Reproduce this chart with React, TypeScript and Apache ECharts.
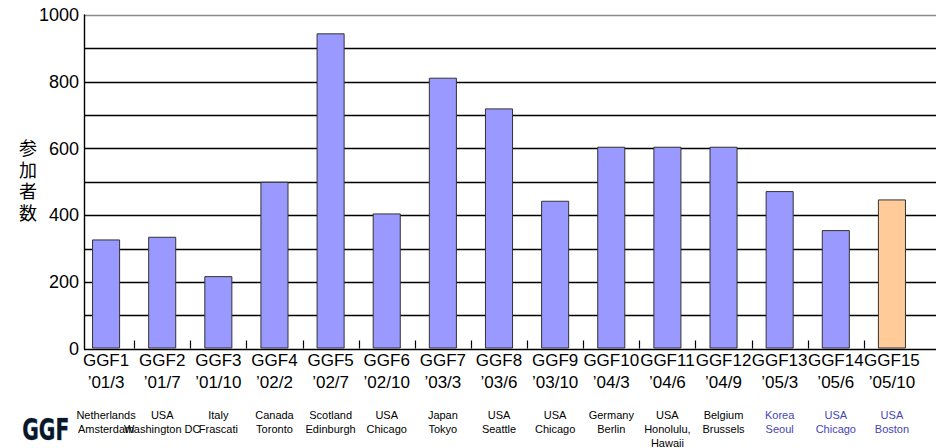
import React, { useEffect, useRef } from "react";
import * as echarts from "echarts";

const editions = ["GGF1", "GGF2", "GGF3", "GGF4", "GGF5", "GGF6", "GGF7", "GGF8", "GGF9", "GGF10", "GGF11", "GGF12", "GGF13", "GGF14", "GGF15"];
const dates = ["’01/3", "’01/7", "’01/10", "’02/2", "’02/7", "’02/10", "’03/3", "’03/6", "’03/10", "’04/3", "’04/6", "’04/9", "’05/3", "’05/6", "’05/10"];
const locations = [
  ["Netherlands", "Amsterdam"],
  ["USA", "Washington DC"],
  ["Italy", "Frascati"],
  ["Canada", "Toronto"],
  ["Scotland", "Edinburgh"],
  ["USA", "Chicago"],
  ["Japan", "Tokyo"],
  ["USA", "Seattle"],
  ["USA", "Chicago"],
  ["Germany", "Berlin"],
  ["USA", "Honolulu,", "Hawaii"],
  ["Belgium", "Brussels"],
  ["Korea", "Seoul"],
  ["USA", "Chicago"],
  ["USA", "Boston"],
];
const participants = [327, 335, 217, 500, 945, 405, 812, 720, 443, 605, 605, 605, 472, 355, 447];
const upcoming = [false, false, false, false, false, false, false, false, false, false, false, false, true, true, true];
const highlighted = [false, false, false, false, false, false, false, false, false, false, false, false, false, false, true];
const yTicks = [0, 200, 400, 600, 800, 1000];
const yTitle = ["参", "加", "者", "数"];

const FONT = "'Liberation Sans', Arial, sans-serif";

export default function App() {
  const ref = useRef<HTMLDivElement>(null);
  useEffect(() => {
    document.body.style.margin = "0";
    if (!ref.current) return;
    const chart = echarts.init(ref.current, null, { renderer: "svg" });
    const splitColors = Array.from({ length: 11 }, (_, i) => (i === 10 ? "#8a8a8a" : "#000000"));
    // category boundaries between neighbouring editions (tick marks)
    const boundaries = editions.slice(1).map((_, i) => i + 1);
    chart.setOption({
      animation: false,
      backgroundColor: "#ffffff",
      textStyle: { fontFamily: FONT },
      grid: [
        { left: 84, right: 0, top: 15, bottom: 99, containLabel: false },
        { left: 78, width: 842, top: 15, bottom: 99, containLabel: false },
      ],
      xAxis: [
        { type: "value", gridIndex: 0, min: 0, max: 1, show: false },
        {
          type: "category",
          gridIndex: 1,
          data: editions,
          axisLine: { show: false },
          axisTick: { show: false },
          splitLine: { show: false },
          axisLabel: {
            interval: 0,
            margin: 1,
            hideOverlap: false,
            formatter: (value: string, index: number) => {
              const up = upcoming[index];
              const sm = up ? "bb" : "b";
              const lines = [
                `{a|${value}}`,
                `{a|${dates[index]}}`,
                `{s| }`,
                ...locations[index].map((t) => `{${sm}|${t}}`),
              ];
              return lines.join("\n");
            },
            rich: {
              a: { fontSize: 17, lineHeight: 22, color: "#000", fontFamily: FONT },
              s: { fontSize: 2, lineHeight: 14, color: "#fff" },
              b: { fontSize: 11, lineHeight: 14, color: "#000", fontFamily: FONT },
              bb: { fontSize: 11, lineHeight: 14, color: "#4545b5", fontFamily: FONT },
            },
          },
        },
      ],
      yAxis: [
        {
          type: "value",
          gridIndex: 0,
          min: 0,
          max: 1000,
          interval: 100,
          axisLine: { show: true, onZero: false, lineStyle: { color: "#000", width: 1.4 } },
          axisTick: { show: false },
          axisLabel: {
            margin: 5,
            fontSize: 18,
            color: "#000",
            fontFamily: FONT,
            formatter: (v: number) => (yTicks.includes(v) ? String(v) : ""),
          },
          splitLine: { show: true, lineStyle: { color: splitColors, width: 1.4 } },
        },
        {
          type: "value",
          gridIndex: 1,
          min: 0,
          max: 1000,
          interval: 100,
          axisLine: { show: false },
          axisTick: { show: false },
          axisLabel: { show: false },
          splitLine: { show: false },
        },
      ],
      graphic: [
        ...yTitle.map((ch, i) => ({
          type: "text",
          left: 19,
          top: 138 + i * 21.5,
          style: { text: ch, fontSize: 18, fill: "#000", fontFamily: "'Noto Sans CJK JP', sans-serif" },
        })),
        {
          type: "text",
          left: 22,
          top: 414,
          style: {
            text: "GGF",
            fontSize: 30,
            fontWeight: "bold",
            fill: "#0b1626",
            stroke: "#6fa8d8",
            lineWidth: 0.6,
            fontFamily: "'DejaVu Sans Condensed', 'DejaVu Sans', sans-serif",
          },
          scaleX: 0.75,
        },
      ],
      series: [
        {
          type: "bar",
          xAxisIndex: 1,
          yAxisIndex: 1,
          barWidth: "50%",
          data: participants.map((v, i) => ({
            value: v,
            itemStyle: { color: highlighted[i] ? "#ffcc99" : "#9999ff" },
          })),
          itemStyle: { borderColor: "#333333", borderWidth: 1 },
        },
        {
          type: "custom",
          xAxisIndex: 1,
          yAxisIndex: 1,
          silent: true,
          clip: false,
          z: 5,
          data: boundaries.map((b) => [b, 0]),
          renderItem: (params: any, api: any) => {
            const p = api.coord([api.value(0), 0]);
            const w = api.size([1, 0])[0];
            const x = Math.round(p[0] - w / 2) + 0.5;
            return {
              type: "line",
              shape: { x1: x, y1: p[1], x2: x, y2: p[1] - 8 },
              style: { stroke: "#000000", lineWidth: 1.2 },
            };
          },
        },
      ],
    });
    return () => chart.dispose();
  }, []);
  return <div ref={ref} style={{ width: 936, height: 448 }} />;
}
